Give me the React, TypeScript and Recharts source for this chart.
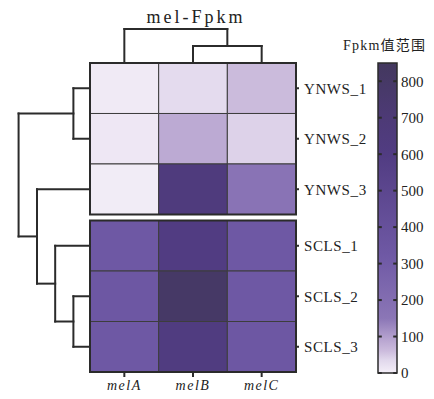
import { ComposedChart, XAxis, YAxis, ReferenceArea, ReferenceLine } from "recharts";

const genes = ["melA", "melB", "melC"];
const samples = ["YNWS_1", "YNWS_2", "YNWS_3", "SCLS_1", "SCLS_2", "SCLS_3"];
const melA = [8, 12, 5, 330, 340, 330];
const melB = [30, 85, 640, 600, 800, 620];
const melC = [62, 40, 165, 325, 330, 335];

// clustering merges: [childA, childB, height]; merged nodes are numbered after the leaves
const rowMerges = [[0, 1, 0.93], [4, 5, 0.93], [3, 7, 1.95], [2, 8, 2.97], [6, 9, 4.0]];
const colMerges = [[1, 2, 1.0], [0, 3, 2.0]];

const legendTicks = [0, 100, 200, 300, 400, 500, 600, 700, 800];
const legendMax = 850;

const colorStops = [
  { v: 0, c: "#f4eff8" },
  { v: 15, c: "#ece5f3" },
  { v: 35, c: "#e1d8ec" },
  { v: 60, c: "#ccbcdd" },
  { v: 90, c: "#b9a6d1" },
  { v: 150, c: "#8b76b6" },
  { v: 320, c: "#6f59a5" },
  { v: 600, c: "#513c82" },
  { v: 700, c: "#4d3a76" },
  { v: 850, c: "#43385e" },
];

const GAP = 0.12; // split between the two sample groups, in row units
const ROW_UNIT = 0.26; // column widths per unit of row-dendrogram height
const COL_UNIT = 0.337; // row heights per unit of column-dendrogram height
const serif = "'Liberation Serif', 'Noto Sans CJK SC', serif";
const ink = "#2b2b2b";

const hex = (s: string) => [1, 3, 5].map((i) => parseInt(s.slice(i, i + 2), 16));
function colorOf(v: number) {
  for (let i = 1; i < colorStops.length; i++) {
    const a = colorStops[i - 1], b = colorStops[i];
    if (v <= b.v) {
      const t = (v - a.v) / (b.v - a.v);
      const ca = hex(a.c), cb = hex(b.c);
      const m = ca.map((x, k) => Math.round(x + (cb[k] - x) * t));
      return `rgb(${m.join(",")})`;
    }
  }
  return colorStops[colorStops.length - 1].c;
}

const rowTop = (i: number) => i + (i >= 3 ? GAP : 0);
const rowCenters = samples.map((_, i) => rowTop(i) + 0.5);
const colCenters = genes.map((_, i) => i + 0.5);
const values = [melA, melB, melC];

function dendro(merges: number[][], leafPos: number[]) {
  const pos = [...leafPos];
  const h = leafPos.map(() => 0);
  const segs: number[][] = [];
  merges.forEach(([a, b, ht]) => {
    segs.push([pos[a], h[a], pos[a], ht]);
    segs.push([pos[b], h[b], pos[b], ht]);
    segs.push([pos[a], ht, pos[b], ht]);
    pos.push((pos[a] + pos[b]) / 2);
    h.push(ht);
  });
  return segs;
}

const rowSegs = dendro(rowMerges, rowCenters);
const colSegs = dendro(colMerges, colCenters);

export default function App() {
  const yMax = 6 + GAP;
  return (
    <div style={{ position: "absolute", left: 0, top: 0, width: 434, height: 399, background: "#fff" }}>
      <div
        style={{
          position: "absolute", left: 0, top: 8, width: 386, textAlign: "center",
          fontFamily: serif, fontSize: 18, lineHeight: "18px", letterSpacing: 3, paddingLeft: 3, color: "#222",
        }}
      >
        mel-Fpkm
      </div>
      <div
        style={{
          position: "absolute", left: 343, top: 39, fontFamily: serif, fontSize: 14,
          lineHeight: "14px", letterSpacing: 1.2, color: "#222", whiteSpace: "nowrap",
        }}
      >
        Fpkm值范围
      </div>

      <div style={{ position: "absolute", left: 0, top: 0 }}>
        <ComposedChart width={434} height={399} margin={{ top: 63, left: 90, right: 56, bottom: 0 }}>
          <XAxis
            type="number"
            dataKey="x"
            domain={[0, 3]}
            allowDataOverflow
            ticks={colCenters}
            tickFormatter={(_v: number, i: number) => genes[i]}
            axisLine={false}
            tickLine={{ stroke: ink, strokeWidth: 2 }}
            tickSize={5}
            tickMargin={3}
            height={27}
            tick={{ fontFamily: serif, fontSize: 14, fontStyle: "italic", fill: "#222", letterSpacing: 1.5 }}
          />
          <YAxis
            type="number"
            dataKey="y"
            orientation="right"
            reversed
            domain={[0, yMax]}
            allowDataOverflow
            ticks={rowCenters}
            tickFormatter={(_v: number, i: number) => samples[i]}
            axisLine={false}
            tickLine={{ stroke: ink, strokeWidth: 2 }}
            tickSize={3}
            tickMargin={5}
            width={82}
            tick={{ fontFamily: serif, fontSize: 15, fill: "#222", textAnchor: "start", letterSpacing: 0.6 }}
          />
          {samples.map((s, r) =>
            genes.map((g, c) => (
              <ReferenceArea
                key={`${s}-${g}`}
                x1={c}
                x2={c + 1}
                y1={rowTop(r)}
                y2={rowTop(r) + 1}
                fill={colorOf(values[c][r])}
                fillOpacity={1}
                stroke="#3d3d3d"
                strokeWidth={1}
                ifOverflow="visible"
              />
            ))
          )}
          <ReferenceArea x1={0} x2={3} y1={0} y2={3} fill="none" stroke={ink} strokeWidth={2} ifOverflow="visible" />
          <ReferenceArea x1={0} x2={3} y1={3 + GAP} y2={yMax} fill="none" stroke={ink} strokeWidth={2} ifOverflow="visible" />
          {rowSegs.map(([p1, h1, p2, h2], i) => (
            <ReferenceLine
              key={`r${i}`}
              segment={[{ x: -h1 * ROW_UNIT, y: p1 }, { x: -h2 * ROW_UNIT, y: p2 }]}
              stroke={ink}
              strokeWidth={2}
              strokeLinecap="square"
              ifOverflow="visible"
            />
          ))}
          {colSegs.map(([p1, h1, p2, h2], i) => (
            <ReferenceLine
              key={`c${i}`}
              segment={[{ x: p1, y: -h1 * COL_UNIT }, { x: p2, y: -h2 * COL_UNIT }]}
              stroke={ink}
              strokeWidth={2}
              strokeLinecap="square"
              ifOverflow="visible"
            />
          ))}
        </ComposedChart>
      </div>

      <div style={{ position: "absolute", left: 370, top: 55 }}>
        <ComposedChart width={64} height={330} margin={{ top: 8, left: 8, right: 0, bottom: 12 }}>
          <defs>
            <linearGradient id="fpkmGrad" x1="0" y1="1" x2="0" y2="0">
              {colorStops.map((s) => (
                <stop key={s.v} offset={s.v / legendMax} stopColor={s.c} />
              ))}
            </linearGradient>
          </defs>
          <XAxis type="number" dataKey="x" domain={[0, 1]} allowDataOverflow hide />
          <YAxis
            type="number"
            dataKey="y"
            orientation="right"
            domain={[0, legendMax]}
            allowDataOverflow
            ticks={legendTicks}
            axisLine={false}
            tickLine={false}
            tickSize={0}
            tickMargin={4}
            width={37}
            tick={{ fontFamily: serif, fontSize: 15, fill: "#222", textAnchor: "start" }}
          />
          <ReferenceArea
            x1={0}
            x2={1}
            y1={0}
            y2={legendMax}
            fill="url(#fpkmGrad)"
            fillOpacity={1}
            stroke={ink}
            strokeWidth={1.5}
            ifOverflow="visible"
          />
          {legendTicks.map((t) => (
            <ReferenceLine key={`ml${t}`} segment={[{ x: 0, y: t }, { x: 0.2, y: t }]} stroke={ink} strokeWidth={2} ifOverflow="visible" />
          ))}
          {legendTicks.map((t) => (
            <ReferenceLine key={`mr${t}`} segment={[{ x: 0.8, y: t }, { x: 1, y: t }]} stroke={ink} strokeWidth={2} ifOverflow="visible" />
          ))}
        </ComposedChart>
      </div>
    </div>
  );
}
